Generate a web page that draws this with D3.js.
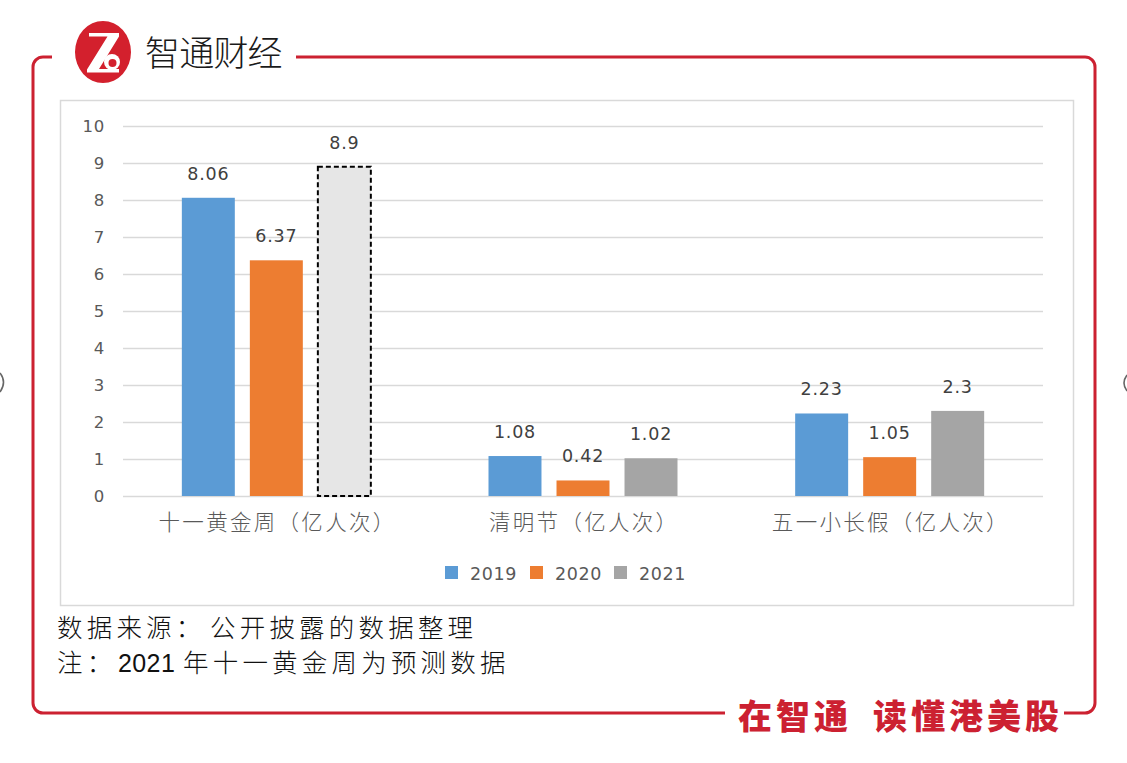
<!DOCTYPE html>
<html><head><meta charset="utf-8">
<script src="https://cdn.jsdelivr.net/npm/d3@7/dist/d3.min.js"></script>
<style>
html,body{margin:0;padding:0;background:#fff;}
svg{display:block;}
</style></head>
<body>
<svg id="c" width="1127" height="763"></svg>
<script>
const categories = ["十一黄金周（亿人次）", "清明节（亿人次）", "五一小长假（亿人次）"];
const seriesNames = ["2019", "2020", "2021"];
const values2019 = [8.06, 1.08, 2.23];
const values2020 = [6.37, 0.42, 1.05];
const values2021 = [8.9, 1.02, 2.3];
const forecast2021 = [true, false, false];
const yTicks = [0,1,2,3,4,5,6,7,8,9,10];
const colors = ["#5b9bd5", "#ed7d31", "#a5a5a5"];
const note1 = ["数据来源：", "公开披露的数据整理"];
const note2 = ["注：", "2021", "年十一黄金周为预测数据"];
const title = "智通财经";
const slogan = ["在智通", "读懂港美股"];

const svg = d3.select("#c");
const red = "#cc2131";
const cjk = "'Noto Sans CJK SC','Noto Sans',sans-serif";
const latin = "'DejaVu Sans',Verdana,sans-serif";

// red frame
svg.append("path")
  .attr("d","M52,57 H43 A10,10 0 0 0 33,67 V703 A10,10 0 0 0 43,713 H725")
  .attr("fill","none").attr("stroke",red).attr("stroke-width",3);
svg.append("path")
  .attr("d","M1064,713 H1085 A10,10 0 0 0 1095,703 V67 A10,10 0 0 0 1085,57 H296")
  .attr("fill","none").attr("stroke",red).attr("stroke-width",3);

// logo
svg.append("ellipse").attr("cx",103).attr("cy",52).attr("rx",28).attr("ry",31).attr("fill","#d3202d");
svg.append("path").attr("d","M89,33 H119 V36.5 L99,69 H119 V72.5 H87 V69.5 L107.5,36.5 H89 Z").attr("fill","#fff");
svg.append("circle").attr("cx",112).attr("cy",62).attr("r",8).attr("fill","#fff");
svg.append("circle").attr("cx",112.5).attr("cy",63).attr("r",4).attr("fill","#d3202d");
svg.append("text").attr("x",145).attr("y",66).text(title)
  .attr("font-family",cjk).attr("font-size",35).attr("font-weight",300)
  .attr("letter-spacing",-0.8).attr("fill","#1a1a1a");

// slogan
svg.selectAll("text.slg").data(slogan).join("text").attr("class","slg")
  .attr("x",(d,i)=>i===0?738:873).attr("y",729).text(d=>d)
  .attr("font-family",cjk).attr("font-size",34).attr("font-weight",900)
  .attr("letter-spacing",4).attr("fill",red);

// edge glyph fragments (cropped in the source image)
svg.append("path").attr("d","M0,373 Q7,382 0,392").attr("fill","none").attr("stroke","#666").attr("stroke-width",1.6);
svg.append("path").attr("d","M1127,375 Q1121,383 1127,391").attr("fill","none").attr("stroke","#666").attr("stroke-width",1.6);

// chart box
svg.append("rect").attr("x",60.5).attr("y",100.5).attr("width",1013).attr("height",505)
  .attr("fill","#fff").attr("stroke","#d9d9d9").attr("stroke-width",1.5);

const y = d3.scaleLinear().domain([0,10]).range([496,126]);
const x0 = d3.scaleBand().domain(categories).range([123,1043]).paddingInner(0.3837).paddingOuter(0.19185);
const x1 = d3.scaleBand().domain(seriesNames).range([0,x0.bandwidth()]).paddingInner(0.221).paddingOuter(0);

// gridlines
const yAxis = d3.axisLeft(y).tickValues(yTicks).tickSize(-(1043-123)).tickFormat(d3.format("d")).tickPadding(18);
const ga = svg.append("g").attr("transform","translate(123,0)").call(yAxis);
ga.select(".domain").remove();
ga.selectAll(".tick line").attr("stroke","#d9d9d9").attr("stroke-width",1.3);
ga.selectAll(".tick text").attr("font-family",latin).attr("font-size",16.5).attr("fill","#595959").attr("letter-spacing",0.8);

const data = categories.map((c,i)=>({cat:c, vals:[
  {s:"2019", v:values2019[i], f:false},
  {s:"2020", v:values2020[i], f:false},
  {s:"2021", v:values2021[i], f:forecast2021[i]}
]}));

const g = svg.selectAll("g.cat").data(data).join("g").attr("class","cat")
  .attr("transform",d=>`translate(${x0(d.cat)},0)`);
g.selectAll("rect").data(d=>d.vals).join("rect")
  .attr("x",d=>x1(d.s)).attr("width",x1.bandwidth())
  .attr("y",d=>y(d.v)).attr("height",d=>y(0)-y(d.v))
  .attr("fill",(d,i)=>d.f ? "#e6e6e6" : colors[i])
  .attr("stroke",d=>d.f ? "#000" : "none")
  .attr("stroke-width",d=>d.f?2:0)
  .attr("stroke-dasharray",d=>d.f?"5,3":null);
g.selectAll("text.v").data(d=>d.vals).join("text").attr("class","v")
  .attr("x",d=>x1(d.s)+x1.bandwidth()/2).attr("y",d=>y(d.v)-18)
  .attr("text-anchor","middle").text(d=>d.v)
  .attr("font-family",latin).attr("font-size",17.5).attr("letter-spacing",0.8).attr("fill","#404040");

// category axis
const xAxis = d3.axisBottom(x0).tickSize(0).tickPadding(0);
const gx = svg.append("g").attr("transform",`translate(0,${y(0)})`).call(xAxis);
gx.select(".domain").remove();
gx.selectAll(".tick text").attr("dy",null).attr("y",34).attr("dx",1.2)
  .attr("font-family",cjk).attr("font-size",21.5).attr("font-weight",300)
  .attr("letter-spacing",2.3).attr("fill","#595959");

// legend
const legX = [445, 530, 614];
const lg = svg.selectAll("g.leg").data(seriesNames).join("g").attr("class","leg")
  .attr("transform",(d,i)=>`translate(${legX[i]},566)`);
lg.append("rect").attr("width",13).attr("height",13).attr("fill",(d,i)=>colors[i]);
lg.append("text").attr("x",25).attr("y",13.5).text(d=>d)
  .attr("font-family",latin).attr("font-size",17.5).attr("letter-spacing",0.6).attr("fill","#595959");

// notes
const n1 = svg.append("text").attr("y",637).attr("font-family",cjk).attr("font-size",25.5).attr("font-weight",300).attr("fill","#111");
n1.append("tspan").attr("x",57).attr("letter-spacing",4.2).text(note1[0]);
n1.append("tspan").attr("x",210).attr("letter-spacing",4.2).text(note1[1]);
const n2 = svg.append("text").attr("y",672).attr("font-family",cjk).attr("font-size",25.5).attr("font-weight",300).attr("fill","#111");
n2.append("tspan").attr("x",57).attr("letter-spacing",4.2).text(note2[0]);
n2.append("tspan").attr("x",118).attr("letter-spacing",0.4).attr("font-weight",400).attr("font-family","'Liberation Sans',Arial,sans-serif").attr("font-size",25).text(note2[1]);
n2.append("tspan").attr("x",183).attr("letter-spacing",4.2).text(note2[2]);
</script>
</body></html>
